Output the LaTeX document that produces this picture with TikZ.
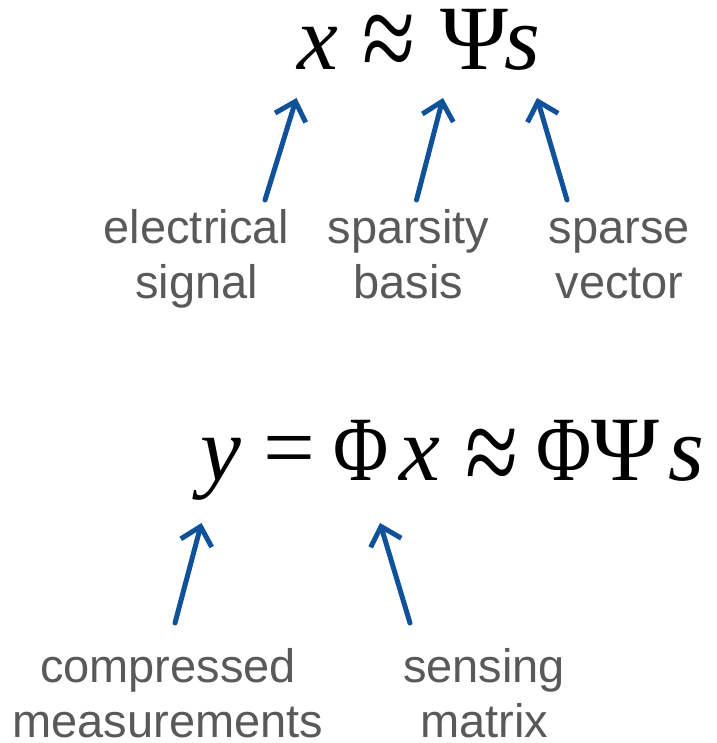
\documentclass[tikz,border=0pt]{standalone}
\usepackage{fontspec}
\usepackage{graphicx}
\setmainfont{Liberation Serif}
\newfontfamily\labelfont{Liberation Sans}
\usetikzlibrary{arrows.meta}
\definecolor{arrowblue}{HTML}{10529A}
\definecolor{labelgray}{HTML}{595959}
\tikzset{
  lbl/.style={font=\labelfont\fontsize{47}{55}\selectfont, text=labelgray, align=center, inner sep=0pt, anchor=base},
  glyph/.style={font=\fontsize{92}{100}\selectfont, inner sep=0pt, anchor=base},
  rel/.style={font=\fontsize{92}{100}\selectfont, inner sep=0pt, anchor=center},
  pointer/.style={draw=arrowblue, line width=5pt, line cap=round,
    -{Straight Barb[length=17pt,width=32pt,line width=5pt]}}
}
\newcommand{\apx}{\scalebox{1.05}[1.4]{≈}}
\newcommand{\phiglyph}{\scalebox{0.82}[1]{Φ}}
\begin{document}
\begin{tikzpicture}[x=1pt,y=-1pt]
\useasboundingbox (0,0) rectangle (716,743);
% formula 1: x ~ Psi s
\node[glyph] (ax) at (318,70) {\textit{x}};
\node[rel] (aapprox) at (389,48) {\apx};
\node[glyph] (apsi) at (474,70) {Ψ};
\node[glyph] (as) at (522,70) {\textit{s}};
% formula 2: y = Phi x ~ Phi Psi s
\node[glyph] (by) at (221,480) {\textit{y}};
\node[rel] (beq) at (289,457.5) {=};
\node[glyph] (bphi) at (361,480) {\phiglyph};
\node[glyph] (bx) at (420,480) {\textit{x}};
\node[rel] (bapprox) at (492,462) {\apx};
\node[glyph] (bphi2) at (564,480) {\phiglyph};
\node[glyph] (bpsi) at (625.5,480) {Ψ};
\node[glyph] (bs) at (686,480) {\textit{s}};
% labels
\node[lbl] (l1) at (196.5,298) {electrical\\signal};
\node[lbl] (l2) at (408.5,298) {sparsity\\basis};
\node[lbl] (l3) at (619.5,298) {sparse\\vector};
\node[lbl] (l4) at (168,737) {compressed\\measurements};
\node[lbl] (l5) at (484,737) {sensing\\matrix};
% arrow ends
\coordinate (t1) at (265,200); \coordinate (h1) at (296.5,98);
\coordinate (t2) at (416.5,200); \coordinate (h2) at (443,98);
\coordinate (t3) at (567,200); \coordinate (h3) at (537,98);
\coordinate (t4) at (175,623); \coordinate (h4) at (201.5,523);
\coordinate (t5) at (410,623); \coordinate (h5) at (380,523);
\draw[pointer] (t1) -- (h1);
\draw[pointer] (t2) -- (h2);
\draw[pointer] (t3) -- (h3);
\draw[pointer] (t4) -- (h4);
\draw[pointer] (t5) -- (h5);
\end{tikzpicture}
\end{document}
